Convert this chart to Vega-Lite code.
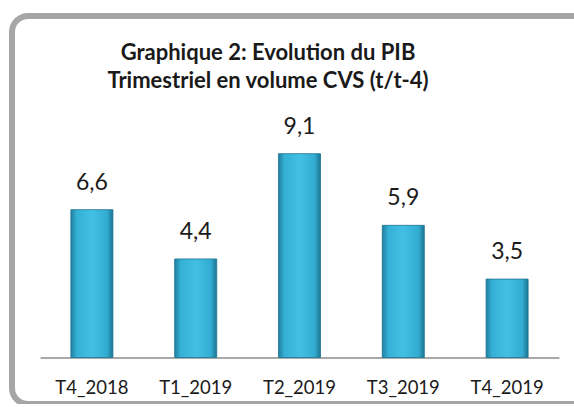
{
  "$schema": "https://vega.github.io/schema/vega-lite/v6.json",
  "width": 580,
  "height": 388,
  "autosize": {"type": "none"},
  "padding": {"left": 12, "top": 16, "right": 0, "bottom": 0},
  "background": "white",
  "title": {
    "text": ["Graphique 2: Evolution du PIB", "Trimestriel en volume CVS (t/t-4)"],
    "font": "Lato",
    "fontSize": 22,
    "fontWeight": "bold",
    "color": "#1a1a1a",
    "lineHeight": 28,
    "offset": -77,
    "dx": -34,
    "anchor": "middle"
  },
  "config": {
    "view": {"stroke": "#a6a6a6", "strokeWidth": 6, "cornerRadius": 16, "fill": "white"},
    "locale": {"number": {"decimal": ",", "thousands": " ", "grouping": [3], "currency": ["", " €"]}}
  },
  "data": {
    "values": [
      {"trimestre": "T4_2018", "pib": 6.6},
      {"trimestre": "T1_2019", "pib": 4.4},
      {"trimestre": "T2_2019", "pib": 9.1},
      {"trimestre": "T3_2019", "pib": 5.9},
      {"trimestre": "T4_2019", "pib": 3.5}
    ]
  },
  "encoding": {
    "x": {
      "field": "trimestre",
      "type": "nominal",
      "sort": null,
      "scale": {"range": [28, 547], "paddingInner": 0.595, "paddingOuter": 0.2975},
      "axis": {
        "title": null,
        "orient": "bottom",
        "offset": -46.5,
        "domainColor": "#8c8c8c",
        "domainWidth": 1.5,
        "ticks": false,
        "labelFont": "Lato",
        "labelFontSize": 18.5,
        "labelColor": "#1a1a1a",
        "labelPadding": 21,
        "labelAngle": 0
      }
    },
    "y": {
      "field": "pib",
      "type": "quantitative",
      "scale": {"domain": [0, 10], "range": [341.5, 117.5], "nice": false},
      "axis": null
    }
  },
  "layer": [
    {
      "mark": {
        "type": "bar",
        "stroke": "#1d7391",
        "strokeWidth": 0.8,
        "color": {
          "gradient": "linear",
          "x1": 0, "x2": 1, "y1": 0, "y2": 0,
          "stops": [
            {"offset": 0, "color": "#1f7f9e"},
            {"offset": 0.14, "color": "#35b0d6"},
            {"offset": 0.5, "color": "#42c0e3"},
            {"offset": 0.86, "color": "#33acd2"},
            {"offset": 1, "color": "#1c7593"}
          ]
        }
      }
    },
    {
      "mark": {"type": "text", "font": "Lato", "fontSize": 23, "color": "#1a1a1a", "baseline": "alphabetic", "dy": -20},
      "encoding": {"text": {"field": "pib", "type": "quantitative", "format": ".1f"}}
    }
  ]
}
